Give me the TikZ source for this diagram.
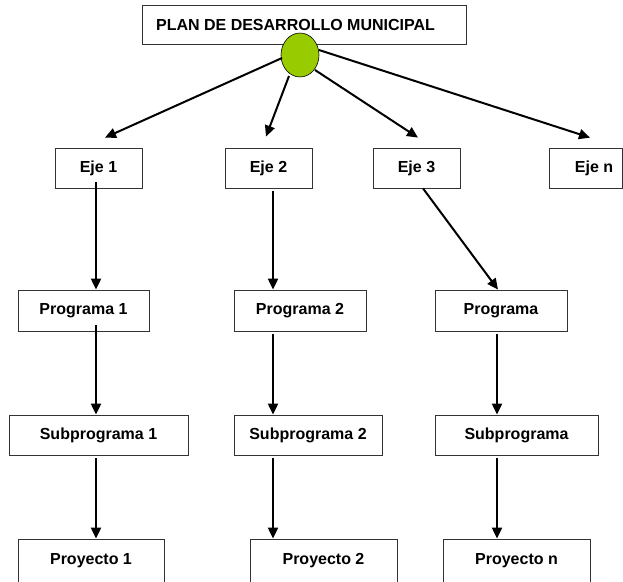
\documentclass[tikz,border=0pt]{standalone}
\usepackage{fontspec}
\setmainfont{Liberation Sans}
\usetikzlibrary{shapes.geometric,arrows.meta,calc}
\definecolor{hub}{HTML}{99CC00}
\tikzset{
  box/.style={draw=black!80, line width=0.8pt, rectangle, inner sep=0pt,
    minimum height=40pt, font=\fontsize{16}{19}\selectfont\bfseries},
  arr/.style={line width=2pt, -{Triangle[length=11pt,width=10pt]}},
}
\begin{document}
\begin{tikzpicture}[x=1pt,y=-1pt]
\useasboundingbox (0,0) rectangle (623,581);

% title and hub
\node[box, minimum width=324pt, minimum height=39pt] (plan) at (304,24.5)
  {PLAN DE DESARROLLO MUNICIPAL\hspace*{17pt}};
\node[draw=black, line width=0.6pt, fill=hub, ellipse, inner sep=0pt,
  minimum width=38pt, minimum height=44pt] (hubn) at (300,55) {};

% axes
\node[box, minimum width=87pt] (eje1) at (98.5,168) {Eje 1};
\node[box, minimum width=87pt] (eje2) at (268.5,168) {Eje 2};
\node[box, minimum width=87pt] (eje3) at (416.5,168) {Eje 3};
\node[box, minimum width=73pt] (ejen) at (585.5,168) {\hspace*{17pt}Eje n};

% programs
\node[box, minimum width=131pt, minimum height=41pt] (prog1) at (83.5,310.5) {Programa 1};
\node[box, minimum width=132pt, minimum height=41pt] (prog2) at (300,310.5) {Programa 2};
\node[box, minimum width=132pt, minimum height=41pt] (prog3) at (501,310.5) {Programa};

% subprograms
\node[box, minimum width=179pt] (sub1) at (98.5,435) {Subprograma 1};
\node[box, minimum width=148pt] (sub2) at (308,435) {Subprograma 2};
\node[box, minimum width=163pt] (sub3) at (516.5,435) {Subprograma};

% projects
\node[box, minimum width=146pt, minimum height=44pt] (proy1) at (91,561) {Proyecto 1};
\node[box, minimum width=147pt, minimum height=44pt] (proy2) at (323.5,561) {Proyecto 2};
\node[box, minimum width=147pt, minimum height=44pt] (proy3) at (516.5,561) {Proyecto n};

% hub to axes
\draw[arr] ($(hubn)+(-18,3)$) -- ($(eje1.north)+(6.5,-10)$);
\draw[arr] ($(hubn)+(-11,21)$) -- ($(eje2.north)+(-2.5,-11)$);
\draw[arr] ($(hubn)+(15,15)$) -- ($(eje3.north)+(1.5,-10)$);
\draw[arr] ($(hubn)+(19,-5)$) -- ($(ejen.north)+(4.5,-10)$);

% axes to programs
\draw[arr] ($(eje1.south)+(-2.5,-6)$) -- ($(prog1.north)+(12.5,0)$);
\draw[arr] ($(eje2.south)+(4.5,3)$) -- ($(prog2.north)+(-27,0)$);
\draw[arr] ($(eje3.south)+(6.5,0)$) -- ($(prog3.north)+(-3,0)$);

% programs to subprograms
\draw[arr] ($(prog1.south)+(12.5,-6)$) -- ($(sub1.north)+(-2.5,0)$);
\draw[arr] ($(prog2.south)+(-27,3)$) -- ($(sub2.north)+(-35,0)$);
\draw[arr] ($(prog3.south)+(-4,3)$) -- ($(sub3.north)+(-19.5,0)$);

% subprograms to projects
\draw[arr] ($(sub1.south)+(-2.5,3)$) -- ($(proy1.north)+(5,0)$);
\draw[arr] ($(sub2.south)+(-35,3)$) -- ($(proy2.north)+(-50.5,0)$);
\draw[arr] ($(sub3.south)+(-19.5,3)$) -- ($(proy3.north)+(-19.5,0)$);
\end{tikzpicture}
\end{document}
